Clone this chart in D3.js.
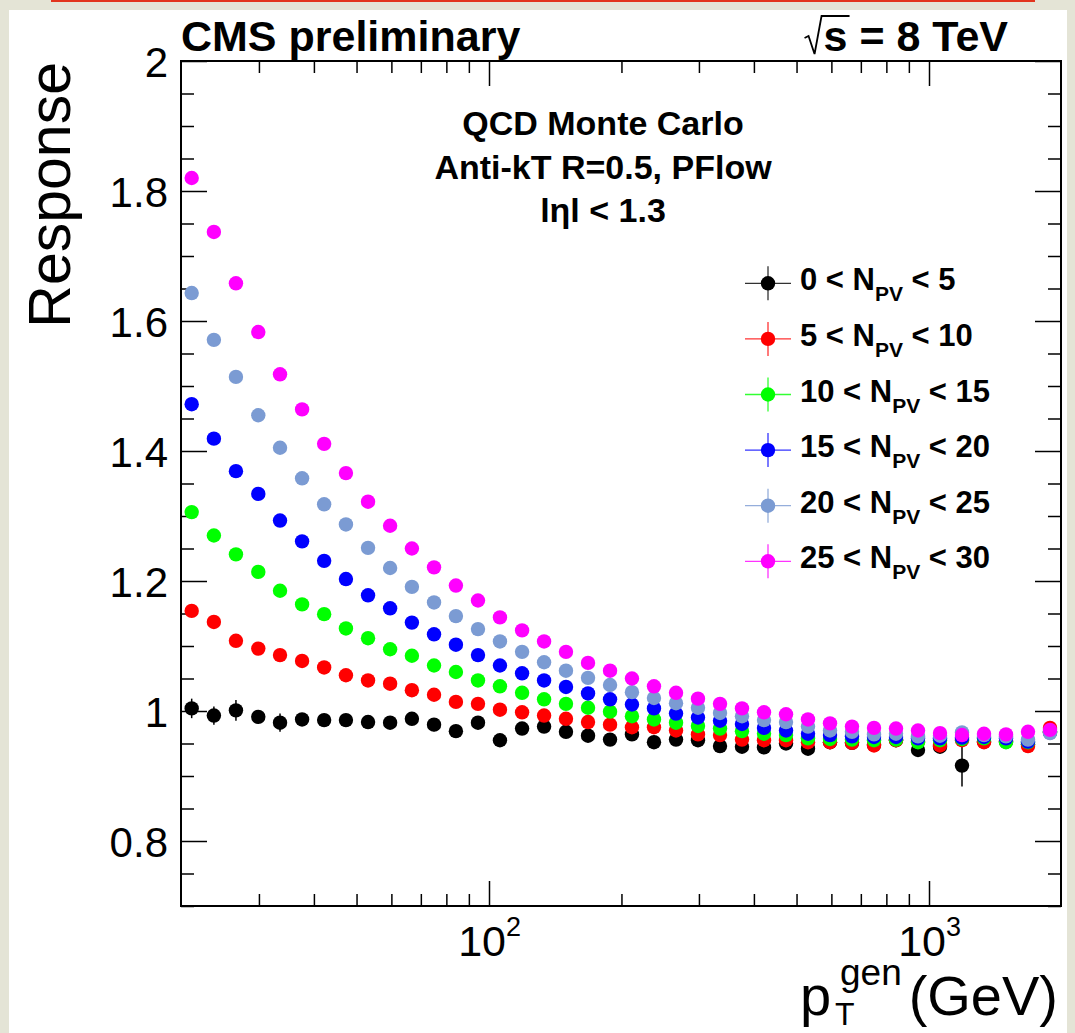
<!DOCTYPE html>
<html><head><meta charset="utf-8">
<script src="https://cdn.jsdelivr.net/npm/d3@7"></script>
<style>
html,body{margin:0;padding:0;background:#e4e4d6;}
svg{display:block;font-family:"Liberation Sans",Arial,Helvetica,sans-serif;}
</style></head><body>
<svg id="c" width="1075" height="1033"></svg>
<script>
// ---- data ----
const ptGen = [21.1,23.7,26.6,29.9,33.5,37.6,42.2,47.3,53.1,59.6,66.8,75.0,84.1,94.4,105.9,118.9,133.4,149.6,167.9,188.4,
  211.3,237.1,266.1,298.5,335.0,375.8,421.7,473.2,530.9,595.7,668.3,749.9,841.4,944.1,1059.3,1188.5,1333.5,1496.2,1678.8,1883.6];
const resp0to5 = [1.004,0.993,1.001,0.991,0.982,0.987,0.986,0.986,0.983,0.982,0.988,0.979,0.969,0.982,0.955,0.973,0.976,0.968,0.962,0.956,
  0.964,0.952,0.956,0.955,0.946,0.945,0.944,0.950,0.942,0.952,0.951,0.948,0.955,0.940,0.945,0.916,0.953,0.953,0.949,0.967];
const err0to5 = [0.015,0.014,0.016,0.010,0.014,0.009,0.009,0.009,0.009,0.009,0.009,0.010,0.010,0.010,0.010,0.010,0.010,0.010,0.010,0.010,
  0.010,0.010,0.010,0.010,0.010,0.010,0.010,0.010,0.010,0.010,0.010,0.010,0.010,0.010,0.010,0.032,0.010,0.010,0.010,0.010];
const resp5to10 = [1.154,1.137,1.108,1.096,1.086,1.077,1.067,1.055,1.047,1.042,1.032,1.025,1.014,1.011,1.002,0.998,0.993,0.988,0.983,0.979,
  0.975,0.975,0.970,0.964,0.963,0.956,0.955,0.955,0.952,0.952,0.951,0.947,0.955,0.953,0.947,0.955,0.952,0.954,0.946,0.974];
const resp10to15 = [1.306,1.270,1.241,1.214,1.185,1.164,1.149,1.127,1.112,1.095,1.085,1.070,1.060,1.047,1.038,1.028,1.018,1.011,1.005,0.999,
  0.992,0.987,0.982,0.977,0.973,0.969,0.965,0.963,0.958,0.957,0.956,0.955,0.956,0.952,0.955,0.957,0.958,0.952,0.952,0.968];
const resp15to20 = [1.472,1.419,1.369,1.334,1.293,1.261,1.231,1.203,1.178,1.158,1.136,1.118,1.102,1.086,1.070,1.058,1.047,1.037,1.027,1.018,
  1.010,1.004,0.996,0.990,0.985,0.980,0.974,0.970,0.965,0.963,0.961,0.960,0.960,0.958,0.958,0.959,0.960,0.958,0.953,0.968];
const resp20to25 = [1.643,1.571,1.514,1.455,1.405,1.358,1.318,1.287,1.251,1.220,1.191,1.167,1.146,1.126,1.107,1.091,1.075,1.062,1.051,1.040,
  1.029,1.020,1.012,1.005,0.997,0.992,0.986,0.983,0.976,0.970,0.968,0.964,0.965,0.961,0.962,0.967,0.963,0.961,0.956,0.966];
const resp25to30 = [1.820,1.737,1.658,1.583,1.518,1.464,1.411,1.366,1.322,1.285,1.250,1.221,1.193,1.170,1.144,1.124,1.107,1.091,1.074,1.062,
  1.050,1.038,1.028,1.019,1.011,1.004,0.998,0.995,0.987,0.981,0.976,0.974,0.973,0.970,0.966,0.963,0.965,0.964,0.968,0.971];
const legendLow = ["0","5","10","15","20","25"];
const legendHigh = ["5","10","15","20","25","30"];
const seriesColors = ["#000000","#ff0000","#00ff00","#0000ff","#7b9bd3","#ff00ff"];
const yMajorTicks = [0.8,1.0,1.2,1.4,1.6,1.8,2.0];
const yTickLabels = ["0.8","1","1.2","1.4","1.6","1.8","2"];
const xMajorTicks = [100,1000];
const xMajorExp = ["2","3"];
const xMinorTicks = [30,40,50,60,70,80,90,200,300,400,500,600,700,800,900];
const headerLines = ["QCD Monte Carlo","Anti-kT R=0.5, PFlow","lηl < 1.3"];

// ---- drawing ----
const W=1075,H=1033;
const svg=d3.select("#c");
svg.append("rect").attr("width",W).attr("height",H).attr("fill","#e4e4d6");
svg.append("rect").attr("x",9).attr("y",10).attr("width",1058).attr("height",H-10).attr("fill","#fff");
svg.append("line").attr("x1",51).attr("x2",1035).attr("y1",1).attr("y2",1).attr("stroke","#e2341d").attr("stroke-width",2);

const L=181,R=1061,T=61,B=906;
const x=d3.scaleLog().domain([Math.pow(10,1.3),Math.pow(10,3.3)]).range([L,R]);
const y=d3.scaleLinear().domain([0.7,2]).range([B,T]);

function ticks(gen, tr){
  const g=svg.append("g").attr("transform",tr).call(gen);
  g.select(".domain").remove();
  g.selectAll("line").attr("stroke","#000").attr("stroke-width",1.5);
  return g;
}
const yMinor=d3.range(0.7,2.0001,0.05).filter(v=>!yMajorTicks.some(m=>Math.abs(m-v)<1e-6));
ticks(d3.axisBottom(x).tickValues(xMajorTicks).tickSizeInner(-25).tickSizeOuter(0).tickFormat(""),`translate(0,${B})`);
ticks(d3.axisBottom(x).tickValues(xMinorTicks).tickSizeInner(-12).tickSizeOuter(0).tickFormat(""),`translate(0,${B})`);
ticks(d3.axisTop(x).tickValues(xMajorTicks).tickSizeInner(-25).tickSizeOuter(0).tickFormat(""),`translate(0,${T})`);
ticks(d3.axisTop(x).tickValues(xMinorTicks).tickSizeInner(-12).tickSizeOuter(0).tickFormat(""),`translate(0,${T})`);
const ya=ticks(d3.axisLeft(y).tickValues(yMajorTicks).tickSizeInner(-26).tickSizeOuter(0).tickPadding(13)
   .tickFormat((d,i)=>yTickLabels[i]),`translate(${L},0)`);
ya.selectAll("text").attr("font-size",42).attr("fill","#000").attr("font-family","Liberation Sans, Arial, sans-serif").attr("dy","0.36em");
ticks(d3.axisLeft(y).tickValues(yMinor).tickSizeInner(-13).tickSizeOuter(0).tickFormat(""),`translate(${L},0)`);
ticks(d3.axisRight(y).tickValues(yMajorTicks).tickSizeInner(-26).tickSizeOuter(0).tickFormat(""),`translate(${R},0)`);
ticks(d3.axisRight(y).tickValues(yMinor).tickSizeInner(-13).tickSizeOuter(0).tickFormat(""),`translate(${R},0)`);

// x tick labels 10^n
xMajorTicks.forEach((v,i)=>{
  svg.append("text").attr("x",x(v)+17).attr("y",956).attr("text-anchor","end").attr("font-size",43).text("10");
  svg.append("text").attr("x",x(v)+17).attr("y",936).attr("font-size",27).text(xMajorExp[i]);
});

// data
const series=[resp0to5,resp5to10,resp10to15,resp15to20,resp20to25,resp25to30];
const errs=[err0to5,null,null,null,null,null];
series.forEach((vals,si)=>{
  const g=svg.append("g");
  const pts=ptGen.map((p,i)=>({p,v:vals[i],e:errs[si]?errs[si][i]:0}));
  g.selectAll("line").data(pts.filter(d=>d.e>0)).join("line")
    .attr("x1",d=>x(d.p)).attr("x2",d=>x(d.p))
    .attr("y1",d=>y(d.v-d.e)).attr("y2",d=>y(d.v+d.e))
    .attr("stroke",seriesColors[si]).attr("stroke-width",1.5);
  g.selectAll("circle").data(pts).join("circle")
    .attr("cx",d=>x(d.p)).attr("cy",d=>y(d.v)).attr("r",7.2).attr("fill",seriesColors[si]);
});

// frame
svg.append("rect").attr("x",L).attr("y",T).attr("width",R-L).attr("height",B-T)
  .attr("fill","none").attr("stroke","#000").attr("stroke-width",2);

// titles
svg.append("text").attr("x",181).attr("y",51).attr("font-size",43).attr("font-weight","bold").text("CMS preliminary");
const st=svg.append("text").attr("x",1008).attr("y",51).attr("font-size",43).attr("font-weight","bold")
  .attr("text-anchor","end").text("s = 8 TeV");
const sw=st.node().getComputedTextLength();
const sx=1008-sw;
svg.append("path").attr("d",`M${sx-19},38 L${sx-15},36 L${sx-9},54 L${sx-2},16 L${sx+26},16`)
  .attr("fill","none").attr("stroke","#000").attr("stroke-width",1.8);

// header
headerLines.forEach((t,i)=>{
  svg.append("text").attr("x",603).attr("y",135+i*43.5).attr("text-anchor","middle")
    .attr("font-size",34).attr("font-weight","bold").text(t);
});

// legend
series.forEach((vals,si)=>{
  const cy=283.3+si*55.6, cx=768;
  const c=seriesColors[si];
  svg.append("line").attr("x1",745).attr("x2",791).attr("y1",cy).attr("y2",cy).attr("stroke",c).attr("stroke-width",1.3).attr("opacity",0.8);
  svg.append("line").attr("x1",cx).attr("x2",cx).attr("y1",cy-17).attr("y2",cy+17).attr("stroke",c).attr("stroke-width",1.3).attr("opacity",0.8);
  svg.append("circle").attr("cx",cx).attr("cy",cy).attr("r",7.2).attr("fill",c);
  const t=svg.append("text").attr("x",800).attr("y",cy+7).attr("font-size",31).attr("font-weight","bold");
  t.append("tspan").text(legendLow[si]+" < N");
  t.append("tspan").attr("font-size",21).attr("dy",11).text("PV");
  t.append("tspan").attr("dy",-11).text(" < "+legendHigh[si]);
});

// axis titles
svg.append("text").attr("transform","translate(70,62) rotate(-90)").attr("text-anchor","end")
  .attr("font-size",59).text("Response");
svg.append("text").attr("x",800).attr("y",1015).attr("font-size",56).text("p");
svg.append("text").attr("x",835).attr("y",1025).attr("font-size",32).text("T");
svg.append("text").attr("x",840).attr("y",985).attr("font-size",37).text("gen");
svg.append("text").attr("x",1058).attr("y",1015).attr("font-size",56).attr("text-anchor","end").text("(GeV)");
</script>
</body></html>
